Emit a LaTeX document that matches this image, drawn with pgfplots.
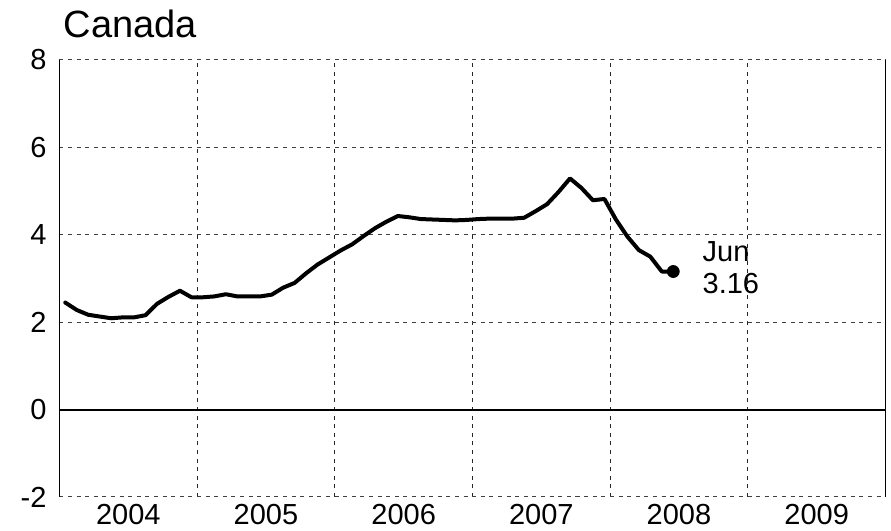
\documentclass[border=0pt]{standalone}
\usepackage{fontspec}
\setmainfont{Liberation Sans}
\usepackage{pgfplots}
\pgfplotsset{compat=1.18}
\begin{document}
\begin{tikzpicture}
\path[use as bounding box] (-29.75pt,-17pt) rectangle (415.75pt,248.5pt);
\begin{axis}[
  name=ax, at={(0,0)}, anchor=south west,
  scale only axis, width=413pt, height=218.5pt,
  xmin=0, xmax=72, ymin=-2, ymax=8,
  xtick={6,18,30,42,54,66},
  xticklabels={2004,2005,2006,2007,2008,2009},
  minor xtick={12,24,36,48,60},
  ytick={-2,0,2,4,6,8},
  yticklabels={-2,0,2,4,6,8},
  major tick length=0, minor tick length=0,
  ymajorgrids, xminorgrids,
  major grid style={black!75, line width=0.5pt, dash pattern=on 2pt off 2.3pt},
  minor grid style={black!85, line width=0.6pt, dash pattern=on 2pt off 2.3pt},
  axis line style={draw=none},
  tick label style={font=\fontsize{14.5}{17}\selectfont},
  /pgf/number format/assume math mode=true,
  yticklabel style={xshift=-3pt},
  clip=false,
]
\draw[black, line width=0.5pt] (rel axis cs:0,0) -- (rel axis cs:0,1);
\draw[black, line width=0.5pt] (rel axis cs:1,0) -- (rel axis cs:1,1);
\draw[black, line width=1pt] (axis cs:0,0) -- (axis cs:72,0);
\addplot[black, line width=2pt, line join=round, line cap=round] table {
x y
0.5 2.45
1.5 2.28
2.5 2.17
3.5 2.13
4.5 2.09
5.5 2.11
6.5 2.11
7.5 2.16
8.5 2.42
9.5 2.58
10.5 2.72
11.5 2.57
12.5 2.57
13.5 2.59
14.5 2.64
15.5 2.59
16.5 2.59
17.5 2.59
18.5 2.63
19.5 2.79
20.5 2.90
21.5 3.12
22.5 3.32
23.5 3.48
24.5 3.64
25.5 3.78
26.5 3.97
27.5 4.15
28.5 4.30
29.5 4.43
30.5 4.40
31.5 4.36
32.5 4.35
33.5 4.34
34.5 4.33
35.5 4.34
36.5 4.36
37.5 4.37
38.5 4.37
39.5 4.37
40.5 4.39
41.5 4.54
42.5 4.70
43.5 4.98
44.5 5.29
45.5 5.07
46.5 4.79
47.5 4.82
48.5 4.35
49.5 3.96
50.5 3.65
51.5 3.50
52.5 3.16
53.5 3.16
};
\addplot[only marks, mark=*, mark size=3pt, black] coordinates {(53.5,3.16)};
\node[anchor=west, align=left, inner sep=0pt, font=\fontsize{14.5}{16}\selectfont, xshift=14.5pt, yshift=1.7pt] at (axis cs:53.5,3.16) {Jun\\3.16};
\end{axis}
\node[anchor=base west, inner sep=0pt, font=\fontsize{19}{22}\selectfont] at ([xshift=1.9pt,yshift=11pt]ax.north west) {Canada};
\end{tikzpicture}
\end{document}
